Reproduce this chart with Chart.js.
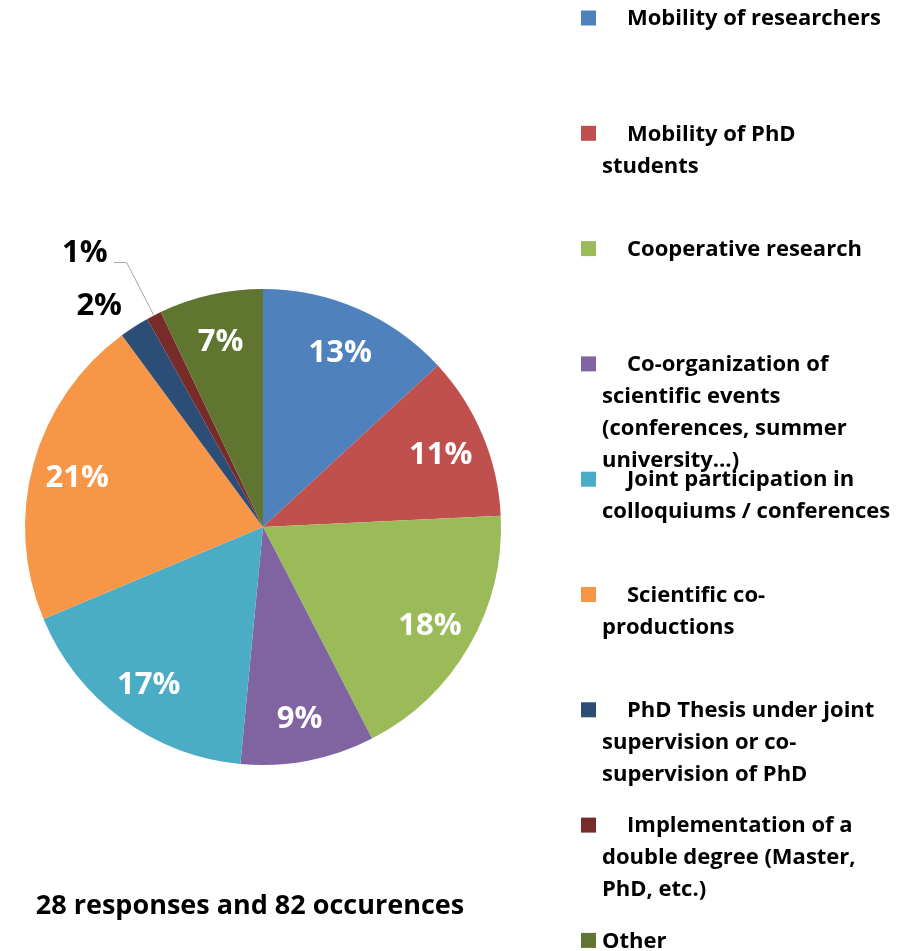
<!DOCTYPE html>
<html>
<head>
<meta charset="utf-8">
<title>Cooperation activities</title>
<script src="https://cdn.jsdelivr.net/npm/chart.js@4.4.1/dist/chart.umd.min.js"></script>
<style>
  html, body { margin: 0; padding: 0; background: #fff; }
  #coop-pie { display: block; }
</style>
</head>
<body>
<canvas id="coop-pie" width="919" height="951"></canvas>
<script>
"use strict";

// Legend text, one array entry per wrapped line
const categories = [
  ['Mobility of researchers'],
  ['Mobility of PhD', 'students'],
  ['Cooperative research'],
  ['Co-organization of', 'scientific events', '(conferences, summer', 'university…)'],
  ['Joint participation in', 'colloquiums / conferences'],
  ['Scientific co-', 'productions'],
  ['PhD Thesis under joint', 'supervision or co-', 'supervision of PhD'],
  ['Implementation of a', 'double degree (Master,', 'PhD, etc.)'],
  ['Other'],
];

// Share of the 82 occurrences, in percent
const shares = [13, 11, 18, 9, 17, 21, 2, 1, 7];

const sliceColors = [
  '#4F81BD', '#C0504D', '#9BBB59', '#8064A2', '#4BACC6',
  '#F79646', '#2C4D75', '#772C2A', '#5F7530',
];

const footnote = '28 responses and 82 occurences';

const FONT = '"Open Sans", "Noto Sans", sans-serif';

// Percent labels on and around the slices
const sliceLabels = {
  id: 'sliceLabels',
  afterDatasetsDraw(chart) {
    const ctx = chart.ctx;
    const meta = chart.getDatasetMeta(0);
    ctx.save();
    ctx.font = `bold 31px ${FONT}`;
    ctx.textBaseline = 'middle';
    meta.data.forEach((arc, i) => {
      const value = chart.data.datasets[0].data[i];
      const text = `${value}%`;
      const mid = (arc.startAngle + arc.endAngle) / 2;
      const r = arc.outerRadius;
      const cos = Math.cos(mid), sin = Math.sin(mid);

      if (value >= 5) {
        ctx.fillStyle = '#fff';
        ctx.textAlign = 'center';
        ctx.fillText(text, arc.x + cos * r * 0.81, arc.y + sin * r * 0.81 + 3);
      } else if (value >= 2) {
        ctx.fillStyle = '#000';
        ctx.textAlign = 'right';
        ctx.fillText(text, arc.x + cos * r * 1.08 - 2, arc.y + sin * r * 1.08 - 5);
      } else {
        // tiny slice: label pulled out with a leader line
        const ex = arc.x + cos * r, ey = arc.y + sin * r;
        const bx = arc.x + cos * r * 1.25, by = arc.y + sin * r * 1.25;
        ctx.strokeStyle = '#A6A6A6';
        ctx.lineWidth = 1;
        ctx.beginPath();
        ctx.moveTo(ex, ey);
        ctx.lineTo(bx, by);
        ctx.lineTo(bx - 13, by);
        ctx.stroke();
        ctx.fillStyle = '#000';
        ctx.textAlign = 'right';
        ctx.fillText(text, bx - 19, by - 9);
      }
    });
    ctx.restore();
  },
};

// Wrapped legend on the right and the footnote under the pie
const sideLegend = {
  id: 'sideLegend',
  afterDraw(chart) {
    const ctx = chart.ctx;
    const colors = chart.data.datasets[0].backgroundColor;
    const boxX = 581, boxSize = 15;
    const textX = 602, indent = 25;
    const firstY = 18, step = 115.3, lineH = 32;

    ctx.save();
    ctx.font = `bold 22px ${FONT}`;
    ctx.textBaseline = 'middle';
    ctx.textAlign = 'left';
    chart.data.labels.forEach((lines, i) => {
      const y = firstY + i * step;
      ctx.fillStyle = colors[i];
      ctx.fillRect(boxX, y - boxSize / 2, boxSize, boxSize);
      ctx.fillStyle = '#000';
      lines.forEach((line, k) => {
        const x = k === 0 && i < chart.data.labels.length - 1 ? textX + indent : textX;
        ctx.fillText(line, x, y + k * lineH + 1);
      });
    });

    ctx.font = `bold 27px ${FONT}`;
    ctx.textAlign = 'center';
    ctx.fillText(footnote, 250, 906);
    ctx.restore();
  },
};

new Chart(document.getElementById('coop-pie'), {
  type: 'pie',
  data: {
    labels: categories,
    datasets: [{
      data: shares,
      backgroundColor: sliceColors,
      borderWidth: 0,
    }],
  },
  options: {
    responsive: false,
    animation: false,
    layout: {
      padding: { left: 25, top: 289, right: 418, bottom: 186 },
    },
    plugins: {
      legend: { display: false },
      tooltip: { enabled: false },
    },
  },
  plugins: [sliceLabels, sideLegend],
});
</script>
</body>
</html>
